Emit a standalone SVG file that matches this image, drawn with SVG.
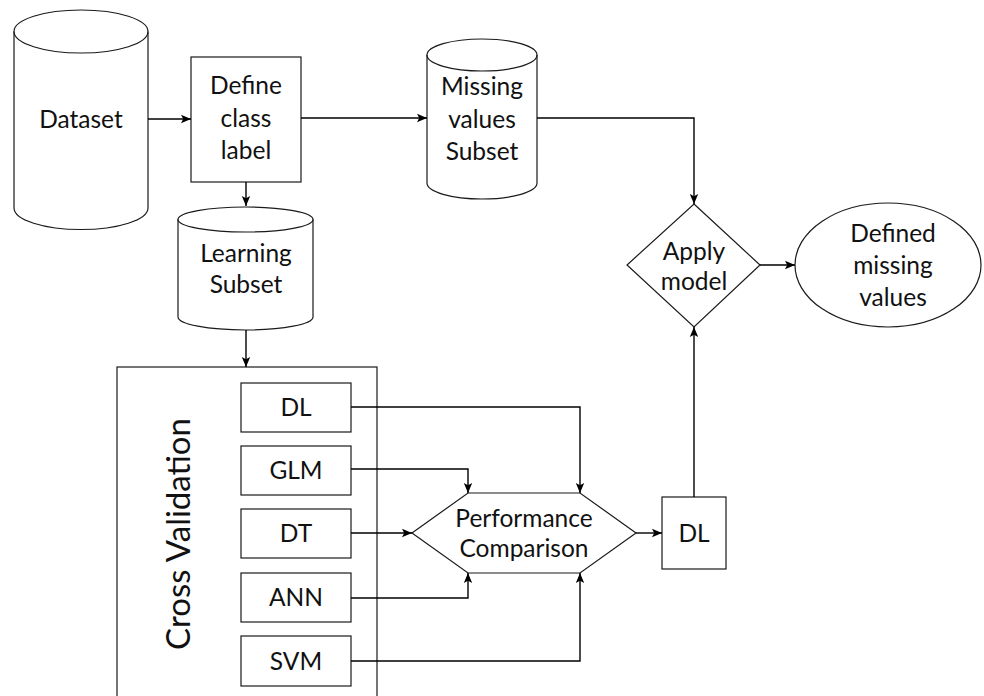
<svg xmlns="http://www.w3.org/2000/svg" width="984" height="696" viewBox="0 0 984 696">
  <defs>
    <marker id="arrow" markerUnits="userSpaceOnUse" markerWidth="10" markerHeight="10" viewBox="0 0 10 10" refX="10" refY="5" orient="auto">
      <path d="M0,0.8 L10,5 L0,9.2 L2.2,5 Z" fill="#000"/>
    </marker>
  </defs>
  <style>
    .shape { fill: #fff; stroke: #1a1a1a; stroke-width: 1.2; }
    .box { fill: #fff; stroke: #1a1a1a; stroke-width: 1.2; }
    .edge { fill: none; stroke: #000; stroke-width: 1.4; marker-end: url(#arrow); }
    text { font-family: Lato, "Open Sans", "Liberation Sans", sans-serif; font-size: 24.5px; fill: #111; text-anchor: middle; }
    .big { font-size: 33px; }
  </style>

  <rect width="984" height="696" fill="#fff"/>

  <!-- Dataset store -->
  <g id="dataset">
    <path class="shape" d="M14,31.5 L14,208 A67,21.5 0 0 0 148,208 L148,31.5 A67,21.5 0 0 0 14,31.5 Z"/>
    <path class="shape" style="fill:none" d="M14,31.5 A67,21.5 0 0 0 148,31.5"/>
    <text x="81" y="128">Dataset</text>
  </g>

  <!-- Define class label step -->
  <g id="define-class-label">
    <rect class="box" x="191" y="57" width="110" height="125"/>
    <text x="246" y="94">Define</text>
    <text x="246" y="127">class</text>
    <text x="246" y="159">label</text>
  </g>

  <!-- Missing values subset store -->
  <g id="missing-values-subset">
    <path class="shape" d="M427,55 L427,183 A55,16 0 0 0 537,183 L537,55 A55,16 0 0 0 427,55 Z"/>
    <path class="shape" style="fill:none" d="M427,55 A55,16 0 0 0 537,55"/>
    <text x="482" y="95">Missing</text>
    <text x="482" y="128">values</text>
    <text x="482" y="160">Subset</text>
  </g>

  <!-- Learning subset store -->
  <g id="learning-subset">
    <path class="shape" d="M178,219.5 L178,317 A67.5,13 0 0 0 313,317 L313,219.5 A67.5,12.5 0 0 0 178,219.5 Z"/>
    <path class="shape" style="fill:none" d="M178,219.5 A67.5,12.5 0 0 0 313,219.5"/>
    <text x="246" y="262">Learning</text>
    <text x="246" y="293">Subset</text>
  </g>

  <!-- Cross validation container with candidate models -->
  <g id="cross-validation">
    <rect class="box" x="117" y="367" width="260" height="340"/>
    <text class="big" transform="translate(190,534) rotate(-90)" x="0" y="0">Cross Validation</text>
  </g>
  <g id="model-dl">
    <rect class="box" x="241" y="383" width="110" height="49"/>
    <text x="296" y="416">DL</text>
  </g>
  <g id="model-glm">
    <rect class="box" x="241" y="446" width="110" height="49"/>
    <text x="296" y="479">GLM</text>
  </g>
  <g id="model-dt">
    <rect class="box" x="241" y="509" width="110" height="49"/>
    <text x="296" y="542">DT</text>
  </g>
  <g id="model-ann">
    <rect class="box" x="241" y="573" width="110" height="49"/>
    <text x="296" y="606">ANN</text>
  </g>
  <g id="model-svm">
    <rect class="box" x="241" y="636" width="110" height="50"/>
    <text x="296" y="670">SVM</text>
  </g>

  <!-- Performance comparison -->
  <g id="performance-comparison">
    <polygon class="box" points="412,533 468,493 580,493 636,533 580,573 468,573"/>
    <text x="524" y="527">Performance</text>
    <text x="524" y="557">Comparison</text>
  </g>

  <!-- Selected model -->
  <g id="selected-dl">
    <rect class="box" x="662" y="497" width="64" height="72"/>
    <text x="694" y="542">DL</text>
  </g>

  <!-- Apply model decision -->
  <g id="apply-model">
    <polygon class="box" points="694,204 760,265 694,327 627,265"/>
    <text x="694" y="260">Apply</text>
    <text x="694" y="290">model</text>
  </g>

  <!-- Result -->
  <g id="defined-missing-values">
    <ellipse class="box" cx="888" cy="265" rx="93" ry="62"/>
    <text x="893" y="242">Defined</text>
    <text x="893" y="274">missing</text>
    <text x="893" y="306">values</text>
  </g>

  <!-- Connectors -->
  <g id="connectors">
    <path class="edge" d="M148,119 L191,119"/>
    <path class="edge" d="M301,118 L427,118"/>
    <path class="edge" d="M246,182 L246,206"/>
    <path class="edge" d="M246,330 L246,367"/>
    <path class="edge" d="M537,118 L694,118 L694,204"/>
    <path class="edge" d="M351,407 L580,407 L580,493"/>
    <path class="edge" d="M351,469 L468,469 L468,493"/>
    <path class="edge" d="M351,533 L412,533"/>
    <path class="edge" d="M351,598 L468,598 L468,573"/>
    <path class="edge" d="M351,661 L580,661 L580,573"/>
    <path class="edge" d="M636,533 L662,533"/>
    <path class="edge" d="M694,497 L694,327"/>
    <path class="edge" d="M760,265 L795,265"/>
  </g>
</svg>
